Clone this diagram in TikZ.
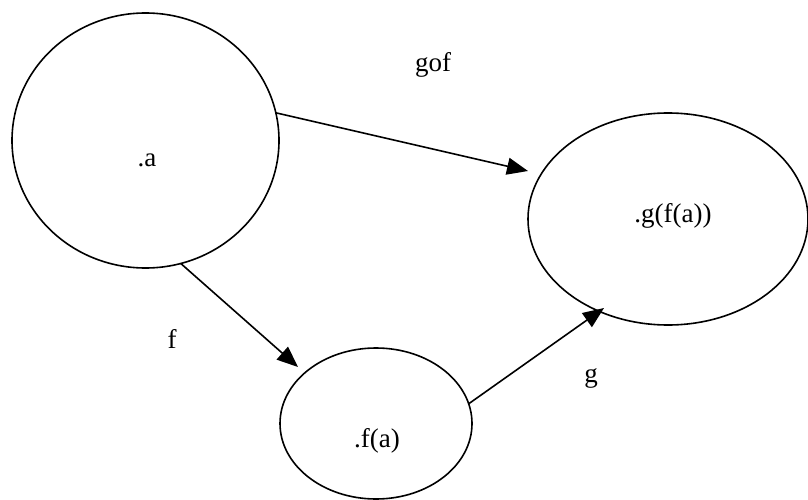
\documentclass[tikz,border=0pt]{standalone}
\usepackage{fontspec}
\setmainfont{Liberation Serif}
\usetikzlibrary{shapes.geometric,arrows.meta}
\tikzset{
  setbox/.style={draw, ellipse, line width=1.6pt, inner sep=0pt, outer sep=0pt},
  lbl/.style={anchor=base, inner sep=0pt, font=\fontsize{27}{32}\selectfont},
  arr/.style={line width=1.6pt, -{Triangle[length=21pt, width=17pt]}}
}
\begin{document}
\begin{tikzpicture}[x=1pt,y=-1pt]
\useasboundingbox (0,0) rectangle (808,500);
% sets
\node[setbox, minimum width=267pt, minimum height=255pt] (A) at (145.5,140.5) {};
\node[setbox, minimum width=280pt, minimum height=212pt] (G) at (668,219) {};
\node[setbox, minimum width=192pt, minimum height=151pt] (F) at (376,423.5) {};
% element labels
\node[lbl] (ta) at (147,166) {.a};
\node[lbl] (tg) at (673,222) {.g(f(a))};
\node[lbl] (tf) at (377,447) {.f(a)};
% arrow labels
\node[lbl] (lgof) at (433,72) {gof};
\node[lbl] (lf) at (172,348) {f};
\node[lbl] (lg) at (591,382) {g};
% arrow ends
\coordinate (gofend) at (528,171);
\coordinate (fend) at (298,367);
\coordinate (gend) at (604,308);
\draw[arr] (A.12) -- (gofend);
\draw[arr] (A.-74) -- (fend);
\draw[arr] (F.12) -- (gend);
\end{tikzpicture}
\end{document}
